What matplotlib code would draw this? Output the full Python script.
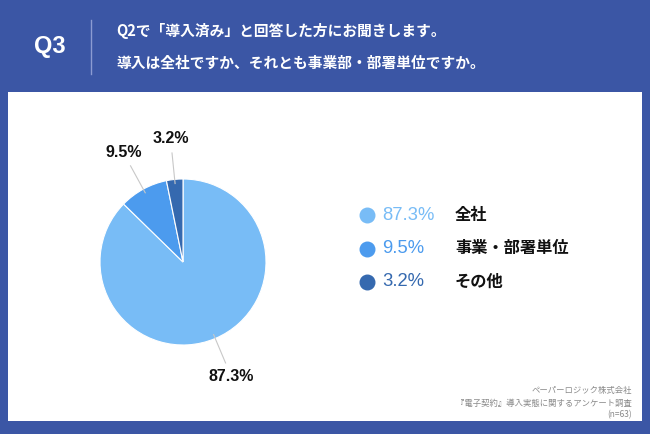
import matplotlib
matplotlib.use("Agg")
import matplotlib.pyplot as plt
from matplotlib.patches import Rectangle
import numpy as np

plt.rcParams['font.family'] = ['Noto Sans CJK JP', 'DejaVu Sans']

categories = ["全社", "事業・部署単位", "その他"]
values = [87.3, 9.5, 3.2]
pct_labels = ["87.3%", "9.5%", "3.2%"]
colors = ["#78bcf6", "#4c9bee", "#3569af"]
q_label = "Q3"
title_lines = ["Q2で「導入済み」と回答した方にお聞きします。",
               "導入は全社ですか、それとも事業部・部署単位ですか。"]
footer_lines = ["ペーパーロジック株式会社",
                "『電子契約』導入実態に関するアンケート調査",
                "(n=63)"]

W, H = 650, 434
fig = plt.figure(figsize=(W / 100, H / 100), dpi=100)
fig.patch.set_facecolor("#3b56a5")

# full-figure overlay in pixel coordinates (y downward)
bg = fig.add_axes([0, 0, 1, 1])
bg.set_xlim(0, W)
bg.set_ylim(H, 0)
bg.axis("off")
bg.add_patch(Rectangle((8, 92), 634, 329, facecolor="white", edgecolor="none"))
bg.plot([91, 91], [20, 74], color="#8c9bd2", lw=1)
bg.text(49.5, 47, q_label, color="white", fontsize=17, fontweight="bold",
        ha="center", va="center", family=["Liberation Sans", "DejaVu Sans"])
bg.text(116, 31, title_lines[0], color="white", fontsize=10.6, fontweight="bold",
        ha="left", va="center")
bg.text(116, 63, title_lines[1], color="white", fontsize=10.6, fontweight="bold",
        ha="left", va="center")

# legend
for i, (cat, lab, col) in enumerate(zip(categories, pct_labels, colors)):
    y = 215 + i * 33.5
    bg.scatter([367], [y], s=110, color=col, zorder=3)
    bg.text(382, y, lab, color=col, fontsize=13.3, ha="left", va="center",
            family=["Liberation Sans", "DejaVu Sans"])
    bg.text(455, y, cat, color="#111111", fontsize=11.7, fontweight="bold",
            ha="left", va="center")

for i, line in enumerate(footer_lines):
    bg.text(632, 391 + i * 12, line, color="#8a8a8a", fontsize=6.0,
            ha="right", va="center")

# pie
cx, cy, r = 183, 262, 83
pax = fig.add_axes([(cx - r) / W, (H - cy - r) / H, 2 * r / W, 2 * r / H])
wedges, _ = pax.pie(values, colors=colors, startangle=90, counterclock=False,
                    radius=1, wedgeprops=dict(edgecolor="white", linewidth=0.8))
pax.set_xlim(-1, 1)
pax.set_ylim(-1, 1)
pax.set_aspect("equal")
pax.axis("off")

for w, lab in zip(wedges, pct_labels):
    ang = np.deg2rad((w.theta1 + w.theta2) / 2)
    c, s = np.cos(ang), np.sin(ang)
    pax.plot([0.95 * c, 1.32 * c], [0.95 * s, 1.32 * s], color="#c8c8c8", lw=0.8,
             clip_on=False)
    pax.text(1.5 * c, 1.5 * s, lab, fontsize=11.5, fontweight="bold", color="#111111",
             ha="center", va="center", family=["Liberation Sans", "DejaVu Sans"])

fig.savefig("out.png", dpi=100, facecolor=fig.get_facecolor())
